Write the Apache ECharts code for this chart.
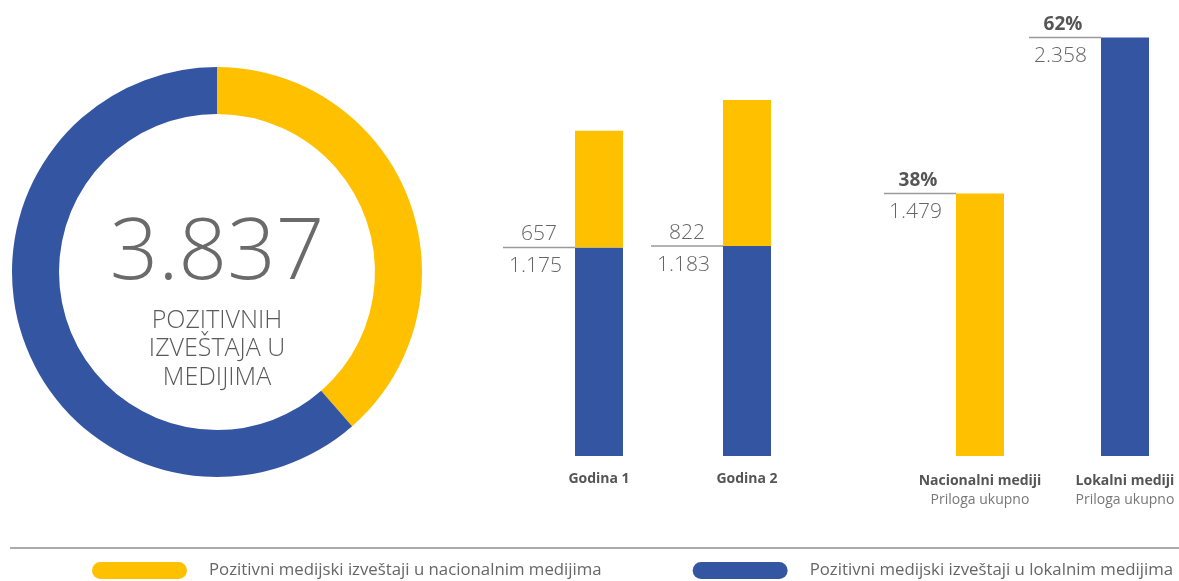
<!DOCTYPE html>
<html>
<head>
<meta charset="utf-8">
<script src="https://cdn.jsdelivr.net/npm/echarts@6/dist/echarts.min.js"></script>
<style>
html,body{margin:0;padding:0;background:#fff;}
#c{width:1179px;height:581px;}
</style>
</head>
<body>
<div id="c"></div>
<script>
// ---- data ----
const years = ['Godina 1', 'Godina 2'];
const localByYear = [1175, 1183];      // blue (lokalni)
const nationalByYear = [657, 822];     // yellow (nacionalni)
const mediaCats = ['Nacionalni mediji', 'Lokalni mediji'];
const mediaSub = 'Priloga ukupno';
const mediaTotals = [1479, 2358];
const mediaShares = ['38%', '62%'];
const legendNames = [
  'Pozitivni medijski izveštaji u nacionalnim medijima',
  'Pozitivni medijski izveštaji u lokalnim medijima'
];
const centerCaption = 'POZITIVNIH\nIZVEŠTAJA U\nMEDIJIMA';

// ---- style ----
const YELLOW = '#FFC000';
const BLUE = '#3455A1';
const NUM_COLOR = '#666666';
const LINE_COLOR = '#9a9a9a';
const BAR_W = 48;
const FONT = '"Open Sans", "Noto Sans", sans-serif';

function fmt(n) { return String(n).replace(/\B(?=(\d{3})+(?!\d))/g, '.'); }
const total = mediaTotals[0] + mediaTotals[1];

const chart = echarts.init(document.getElementById('c'), null, {renderer: 'canvas'});

function stackedLabels(params, api) {
  const p = api.coord([api.value(0), api.value(1)]);
  const left = p[0] - BAR_W / 2;
  const y = p[1];
  return {
    type: 'group',
    children: [
      {type: 'line', shape: {x1: left - 72, y1: y, x2: left, y2: y},
       style: {stroke: LINE_COLOR, lineWidth: 1.5}},
      {type: 'text', style: {x: left - 18, y: y - 3, text: fmt(api.value(2)),
        align: 'right', verticalAlign: 'bottom', fill: NUM_COLOR,
        font: '300 21px ' + FONT}},
      {type: 'text', style: {x: left - 66, y: y + 8, text: fmt(api.value(1)),
        align: 'left', verticalAlign: 'top', fill: NUM_COLOR,
        font: '300 21px ' + FONT}}
    ]
  };
}

function mediaLabels(params, api) {
  const p = api.coord([api.value(0), api.value(1)]);
  const left = p[0] - BAR_W / 2;
  const y = p[1];
  return {
    type: 'group',
    children: [
      {type: 'line', shape: {x1: left - 72, y1: y, x2: left, y2: y},
       style: {stroke: LINE_COLOR, lineWidth: 1.5}},
      {type: 'text', style: {x: left - 38, y: y - 3, text: mediaShares[params.dataIndex],
        align: 'center', verticalAlign: 'bottom', fill: '#555',
        font: 'bold 19px ' + FONT}},
      {type: 'text', style: {x: left - 67, y: y + 8, text: fmt(api.value(1)),
        align: 'left', verticalAlign: 'top', fill: NUM_COLOR,
        font: '300 21px ' + FONT}}
    ]
  };
}

const option = {
  animation: false,
  textStyle: {fontFamily: FONT},
  legend: {
    data: legendNames,
    left: 87, top: 557,
    itemWidth: 95, itemHeight: 17, itemGap: 91,
    icon: 'path://M8.5,0 H86.5 A8.5,8.5 0 0 1 86.5,17 H8.5 A8.5,8.5 0 0 1 8.5,0 Z',
    selectedMode: false,
    textStyle: {color: '#666', fontSize: 16.8, padding: [2, 0, 0, 17], fontFamily: FONT}
  },
  graphic: [
    {type: 'line', shape: {x1: 10, y1: 548, x2: 1179, y2: 548},
     style: {stroke: '#aaaaaa', lineWidth: 2}},
    {type: 'text', x: 217, y: 255, style: {text: fmt(total), align: 'center', verticalAlign: 'middle',
      fill: '#6a6a6a', font: '300 85px ' + FONT}},
    {type: 'text', x: 217, y: 349, style: {text: centerCaption, align: 'center', verticalAlign: 'middle',
      fill: '#5a5a5a', font: '300 25px ' + FONT, lineHeight: 28.5}}
  ],
  grid: [
    {left: 525, width: 296, top: 30, height: 426},
    {left: 980, width: 145, top: 30, height: 426}
  ],
  xAxis: [
    {type: 'category', gridIndex: 0, data: years,
     axisLine: {show: false}, axisTick: {show: false},
     axisLabel: {margin: 16, interval: 0, color: '#555', fontWeight: 'bold', fontSize: 14, fontFamily: FONT}},
    {type: 'category', gridIndex: 1, data: mediaCats, boundaryGap: false,
     axisLine: {show: false}, axisTick: {show: false},
     axisLabel: {margin: 16, interval: 0, hideOverlap: false, fontFamily: FONT,
       formatter: v => '{a|' + v + '}\n{b|' + mediaSub + '}',
       rich: {
         a: {color: '#555', fontWeight: 'bold', fontSize: 14, lineHeight: 19, fontFamily: FONT},
         b: {color: '#777', fontSize: 14, lineHeight: 19, fontFamily: FONT}
       }}}
  ],
  yAxis: [
    {type: 'value', gridIndex: 0, min: 0, max: 2400, show: false, splitLine: {show: false}},
    {type: 'value', gridIndex: 1, min: 0, max: 2400, show: false, splitLine: {show: false}}
  ],
  series: [
    {
      type: 'pie', name: 'Ukupno', center: [217, 272], radius: [158, 205],
      startAngle: 90, clockwise: true, label: {show: false}, labelLine: {show: false},
      silent: true,
      data: [
        {name: legendNames[0], value: mediaTotals[0], itemStyle: {color: YELLOW}},
        {name: legendNames[1], value: mediaTotals[1], itemStyle: {color: BLUE}}
      ]
    },
    {type: 'bar', name: legendNames[1], xAxisIndex: 0, yAxisIndex: 0, stack: 'g',
     barWidth: BAR_W, data: localByYear, itemStyle: {color: BLUE}, silent: true},
    {type: 'bar', name: legendNames[0], xAxisIndex: 0, yAxisIndex: 0, stack: 'g',
     barWidth: BAR_W, data: nationalByYear, itemStyle: {color: YELLOW}, silent: true},
    {type: 'bar', name: 'Mediji', xAxisIndex: 1, yAxisIndex: 1, barWidth: BAR_W, silent: true,
     data: mediaTotals.map((v, i) => ({value: v, itemStyle: {color: i === 0 ? YELLOW : BLUE}}))},
    {type: 'custom', name: 'labels1', xAxisIndex: 0, yAxisIndex: 0, clip: false, silent: true,
     renderItem: stackedLabels,
     data: years.map((y, i) => [i, localByYear[i], nationalByYear[i]])},
    {type: 'custom', name: 'labels2', xAxisIndex: 1, yAxisIndex: 1, clip: false, silent: true,
     renderItem: mediaLabels,
     data: mediaCats.map((c, i) => [i, mediaTotals[i]])}
  ]
};
chart.setOption(option);
</script>
</body>
</html>
